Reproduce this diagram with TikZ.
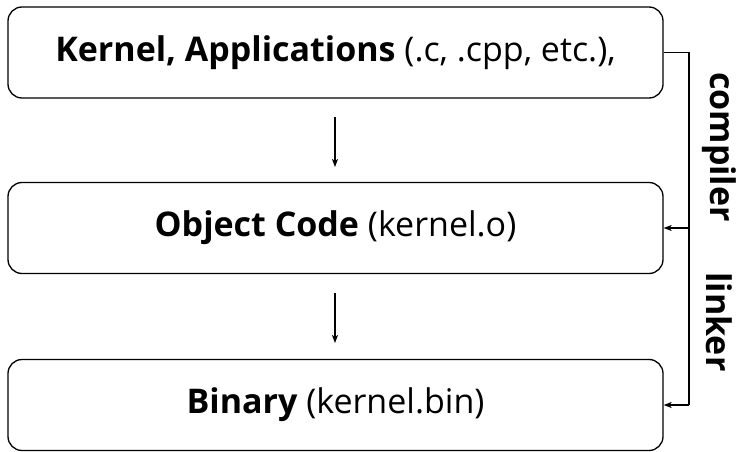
\documentclass[tikz,border=0pt]{standalone}
\usepackage{fontspec}
\setmainfont{Open Sans}
\usetikzlibrary{arrows.meta}
\begin{document}
\begin{tikzpicture}[x=1pt,y=-1pt,>={Stealth[length=8pt,width=6pt,inset=2pt]}]
\tikzstyle{every node}=[inner sep=0pt]
\tikzstyle{stage}=[draw, line width=1.3pt, rounded corners=14pt, minimum width=655pt, minimum height=91pt, font=\fontsize{34}{40}\selectfont]
\tikzstyle{tool}=[rotate=-90, font=\fontsize{34}{40}\selectfont\bfseries]
\useasboundingbox (0,0) rectangle (742,452);
\node at (335.5,52.5) [stage] (src) {\textbf{Kernel, Applications} (.c, .cpp, etc.),};
\node at (335.5,228) [stage] (obj) {\textbf{Object Code} (kernel.o)};
\node at (335.5,405) [stage] (bin) {\textbf{Binary} (kernel.bin)};
\node at (719,147) [tool] (cc) {compiler};
\node at (719,322) [tool] (ld) {linker};
\coordinate (rail) at (689,52.5);
% straight down
\draw [->, line width=1.2pt] (335,117) -- (335,167);
\draw [->, line width=1.2pt] (335,293) -- (335,343);
% side rail
\draw [line width=1.3pt] (src.east) -- (rail) -- (rail |- bin.east);
\draw [->, line width=1.3pt] (rail |- obj.east) -- (obj.east);
\draw [->, line width=1.3pt] (rail |- bin.east) -- (bin.east);
\end{tikzpicture}
\end{document}
